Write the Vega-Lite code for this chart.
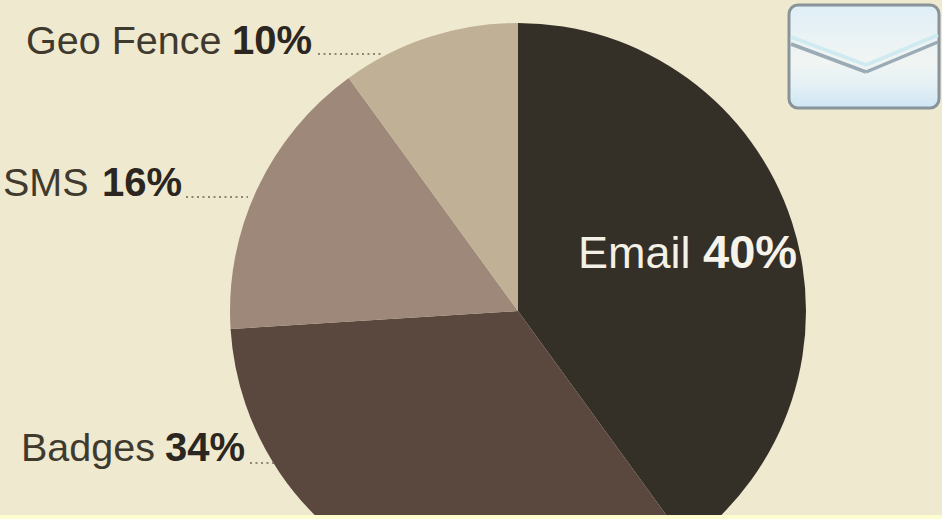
{"$schema":"https://vega.github.io/schema/vega-lite/v6.json","width":942,"height":519,"padding":0,"autosize":"none","background":"#efe9d0","config":{"view":{"stroke":null},"axis":{"disable":true},"text":{"font":"Liberation Sans"}},"layer":[
{"data":{"values":[{"channel":"Email","share":40,"rank":1},{"channel":"Badges","share":34,"rank":2},{"channel":"SMS","share":16,"rank":3},{"channel":"Geo Fence","share":10,"rank":4}]},"mark":{"type":"arc","outerRadius":288},"encoding":{"x":{"datum":518,"type":"quantitative","scale":{"domain":[0,942],"range":[0,942],"nice":false}},"y":{"datum":311,"type":"quantitative","scale":{"domain":[0,519],"range":[0,519],"nice":false}},"theta":{"field":"share","type":"quantitative","stack":true},"order":{"field":"rank","type":"quantitative"},"color":{"field":"channel","type":"nominal","legend":null,"scale":{"domain":["Email","Badges","SMS","Geo Fence"],"range":["#342f27","#5a483e","#9d8879","#c0b196"]}}}},
{"mark":{"type":"rect","color":"#fdfdcf"},"data":{"values":[{}]},"encoding":{"x":{"datum":0,"type":"quantitative","scale":{"domain":[0,942],"range":[0,942],"nice":false}},"x2":{"datum":942},"y":{"datum":515,"type":"quantitative","scale":{"domain":[0,519],"range":[0,519],"nice":false}},"y2":{"datum":519}}},
{"mark":{"type":"rule","color":"#6b6558","strokeWidth":1.5,"strokeDash":[2,3.5]},"data":{"values":[{}]},"encoding":{"x":{"datum":318,"type":"quantitative","scale":{"domain":[0,942],"range":[0,942],"nice":false}},"x2":{"datum":382},"y":{"datum":54,"type":"quantitative","scale":{"domain":[0,519],"range":[0,519],"nice":false}},"y2":{"datum":54}}},
{"mark":{"type":"rule","color":"#6b6558","strokeWidth":1.5,"strokeDash":[2,3.5]},"data":{"values":[{}]},"encoding":{"x":{"datum":186,"type":"quantitative","scale":{"domain":[0,942],"range":[0,942],"nice":false}},"x2":{"datum":248},"y":{"datum":197,"type":"quantitative","scale":{"domain":[0,519],"range":[0,519],"nice":false}},"y2":{"datum":197}}},
{"mark":{"type":"rule","color":"#6b6558","strokeWidth":1.5,"strokeDash":[2,3.5]},"data":{"values":[{}]},"encoding":{"x":{"datum":250,"type":"quantitative","scale":{"domain":[0,942],"range":[0,942],"nice":false}},"x2":{"datum":275},"y":{"datum":463,"type":"quantitative","scale":{"domain":[0,519],"range":[0,519],"nice":false}},"y2":{"datum":463}}},
{"mark":{"type":"text","align":"left","baseline":"alphabetic","fontSize":39.5,"color":"#3f3a2e"},"data":{"values":[{"t":"Geo Fence"}]},"encoding":{"text":{"field":"t"},"x":{"datum":26,"type":"quantitative","scale":{"domain":[0,942],"range":[0,942],"nice":false}},"y":{"datum":54,"type":"quantitative","scale":{"domain":[0,519],"range":[0,519],"nice":false}}}},
{"mark":{"type":"text","align":"left","baseline":"alphabetic","fontSize":40,"fontWeight":"bold","color":"#2b2620"},"data":{"values":[{"t":"10%"}]},"encoding":{"text":{"field":"t"},"x":{"datum":232,"type":"quantitative","scale":{"domain":[0,942],"range":[0,942],"nice":false}},"y":{"datum":54,"type":"quantitative","scale":{"domain":[0,519],"range":[0,519],"nice":false}}}},
{"mark":{"type":"text","align":"left","baseline":"alphabetic","fontSize":39.5,"color":"#3f3a2e"},"data":{"values":[{"t":"SMS"}]},"encoding":{"text":{"field":"t"},"x":{"datum":3,"type":"quantitative","scale":{"domain":[0,942],"range":[0,942],"nice":false}},"y":{"datum":196,"type":"quantitative","scale":{"domain":[0,519],"range":[0,519],"nice":false}}}},
{"mark":{"type":"text","align":"left","baseline":"alphabetic","fontSize":40,"fontWeight":"bold","color":"#2b2620"},"data":{"values":[{"t":"16%"}]},"encoding":{"text":{"field":"t"},"x":{"datum":102,"type":"quantitative","scale":{"domain":[0,942],"range":[0,942],"nice":false}},"y":{"datum":196,"type":"quantitative","scale":{"domain":[0,519],"range":[0,519],"nice":false}}}},
{"mark":{"type":"text","align":"left","baseline":"alphabetic","fontSize":39.5,"color":"#3f3a2e"},"data":{"values":[{"t":"Badges"}]},"encoding":{"text":{"field":"t"},"x":{"datum":21,"type":"quantitative","scale":{"domain":[0,942],"range":[0,942],"nice":false}},"y":{"datum":461,"type":"quantitative","scale":{"domain":[0,519],"range":[0,519],"nice":false}}}},
{"mark":{"type":"text","align":"left","baseline":"alphabetic","fontSize":40,"fontWeight":"bold","color":"#2b2620"},"data":{"values":[{"t":"34%"}]},"encoding":{"text":{"field":"t"},"x":{"datum":165,"type":"quantitative","scale":{"domain":[0,942],"range":[0,942],"nice":false}},"y":{"datum":461,"type":"quantitative","scale":{"domain":[0,519],"range":[0,519],"nice":false}}}},
{"mark":{"type":"text","align":"left","baseline":"alphabetic","fontSize":45,"color":"#f3f0e6"},"data":{"values":[{"t":"Email"}]},"encoding":{"text":{"field":"t"},"x":{"datum":578,"type":"quantitative","scale":{"domain":[0,942],"range":[0,942],"nice":false}},"y":{"datum":268,"type":"quantitative","scale":{"domain":[0,519],"range":[0,519],"nice":false}}}},
{"mark":{"type":"text","align":"left","baseline":"alphabetic","fontSize":47,"fontWeight":"bold","color":"#f5f3ea"},"data":{"values":[{"t":"40%"}]},"encoding":{"text":{"field":"t"},"x":{"datum":703,"type":"quantitative","scale":{"domain":[0,942],"range":[0,942],"nice":false}},"y":{"datum":268,"type":"quantitative","scale":{"domain":[0,519],"range":[0,519],"nice":false}}}},
{"mark":{"type":"rect","cornerRadius":9,"stroke":"#88939a","strokeWidth":3,"fill":{"gradient":"linear","x1":0,"y1":0,"x2":0,"y2":1,"stops":[{"offset":0,"color":"#dfeef7"},{"offset":0.55,"color":"#f1f5f2"},{"offset":0.75,"color":"#e6f1f5"},{"offset":1,"color":"#cfe6f4"}]}},"data":{"values":[{}]},"encoding":{"x":{"datum":789,"type":"quantitative","scale":{"domain":[0,942],"range":[0,942],"nice":false}},"x2":{"datum":939},"y":{"datum":5,"type":"quantitative","scale":{"domain":[0,519],"range":[0,519],"nice":false}},"y2":{"datum":108}}},
{"mark":{"type":"rule","color":"#9aabb5","strokeWidth":3.5},"data":{"values":[{}]},"encoding":{"x":{"datum":791,"type":"quantitative","scale":{"domain":[0,942],"range":[0,942],"nice":false}},"x2":{"datum":866},"y":{"datum":44,"type":"quantitative","scale":{"domain":[0,519],"range":[0,519],"nice":false}},"y2":{"datum":72}}},
{"mark":{"type":"rule","color":"#9aabb5","strokeWidth":3.5},"data":{"values":[{}]},"encoding":{"x":{"datum":866,"type":"quantitative","scale":{"domain":[0,942],"range":[0,942],"nice":false}},"x2":{"datum":938},"y":{"datum":72,"type":"quantitative","scale":{"domain":[0,519],"range":[0,519],"nice":false}},"y2":{"datum":42}}},
{"mark":{"type":"rule","color":"#cfeaf1","strokeWidth":4},"data":{"values":[{}]},"encoding":{"x":{"datum":791,"type":"quantitative","scale":{"domain":[0,942],"range":[0,942],"nice":false}},"x2":{"datum":866},"y":{"datum":37,"type":"quantitative","scale":{"domain":[0,519],"range":[0,519],"nice":false}},"y2":{"datum":65}}},
{"mark":{"type":"rule","color":"#cfeaf1","strokeWidth":4},"data":{"values":[{}]},"encoding":{"x":{"datum":866,"type":"quantitative","scale":{"domain":[0,942],"range":[0,942],"nice":false}},"x2":{"datum":938},"y":{"datum":65,"type":"quantitative","scale":{"domain":[0,519],"range":[0,519],"nice":false}},"y2":{"datum":35}}}
]}
